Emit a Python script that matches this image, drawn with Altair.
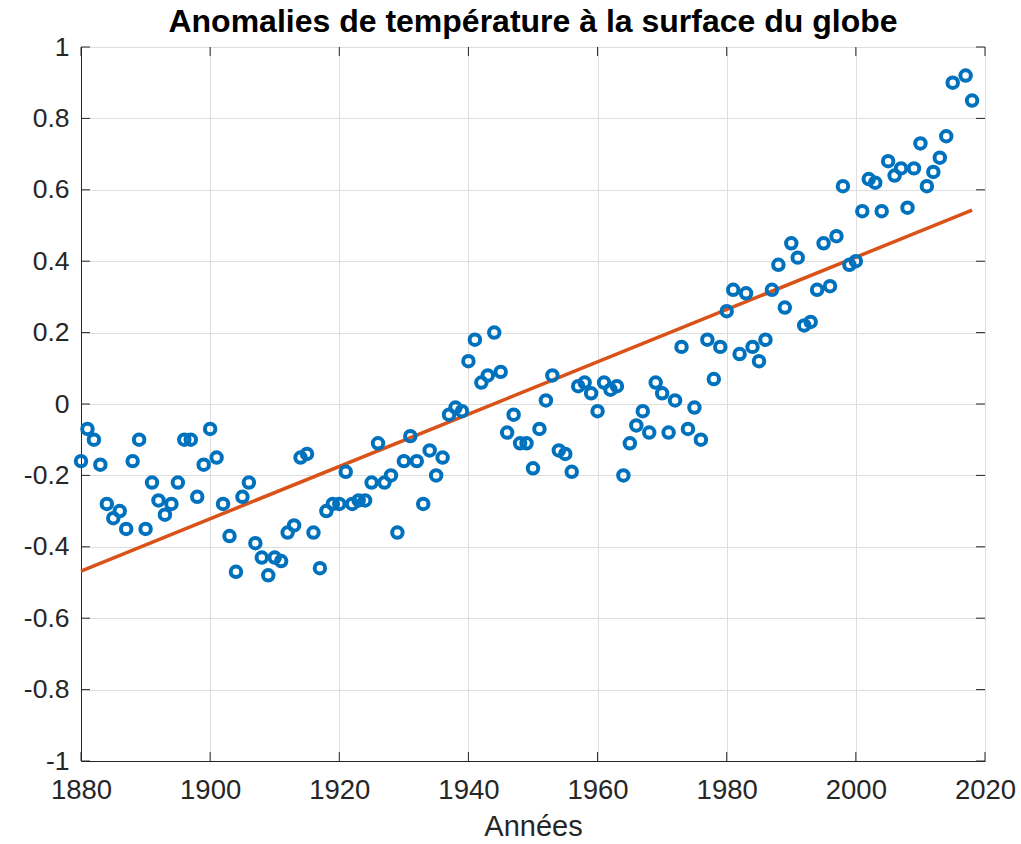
import altair as alt
import pandas as pd

# ---- data ----
title_text = "Anomalies de température à la surface du globe"
x_title = "Années"

years = list(range(1880, 2016)) + [2017, 2018]
anomalies = [
    -0.16, -0.07, -0.10, -0.17, -0.28, -0.32, -0.30, -0.35, -0.16, -0.10,   # 1880s
    -0.35, -0.22, -0.27, -0.31, -0.28, -0.22, -0.10, -0.10, -0.26, -0.17,   # 1890s
    -0.07, -0.15, -0.28, -0.37, -0.47, -0.26, -0.22, -0.39, -0.43, -0.48,   # 1900s
    -0.43, -0.44, -0.36, -0.34, -0.15, -0.14, -0.36, -0.46, -0.30, -0.28,   # 1910s
    -0.28, -0.19, -0.28, -0.27, -0.27, -0.22, -0.11, -0.22, -0.20, -0.36,   # 1920s
    -0.16, -0.09, -0.16, -0.28, -0.13, -0.20, -0.15, -0.03, -0.01, -0.02,   # 1930s
    0.12, 0.18, 0.06, 0.08, 0.20, 0.09, -0.08, -0.03, -0.11, -0.11,         # 1940s
    -0.18, -0.07, 0.01, 0.08, -0.13, -0.14, -0.19, 0.05, 0.06, 0.03,        # 1950s
    -0.02, 0.06, 0.04, 0.05, -0.20, -0.11, -0.06, -0.02, -0.08, 0.06,       # 1960s
    0.03, -0.08, 0.01, 0.16, -0.07, -0.01, -0.10, 0.18, 0.07, 0.16,         # 1970s
    0.26, 0.32, 0.14, 0.31, 0.16, 0.12, 0.18, 0.32, 0.39, 0.27,             # 1980s
    0.45, 0.41, 0.22, 0.23, 0.32, 0.45, 0.33, 0.47, 0.61, 0.39,             # 1990s
    0.40, 0.54, 0.63, 0.62, 0.54, 0.68, 0.64, 0.66, 0.55, 0.66,             # 2000s
    0.73, 0.61, 0.65, 0.69, 0.75, 0.90,                                     # 2010-2015
    0.92, 0.85,                                                             # 2017-2018
]
trend_years = [1880, 2018]
trend_values = [-0.468, 0.543]

x_ticks = [1880, 1900, 1920, 1940, 1960, 1980, 2000, 2020]
y_ticks = [-1, -0.8, -0.6, -0.4, -0.2, 0, 0.2, 0.4, 0.6, 0.8, 1]

pts = pd.DataFrame({"year": years, "anom": anomalies})
trend = pd.DataFrame({"year": trend_years, "anom": trend_values})
xt = pd.DataFrame({"v": x_ticks})
yt = pd.DataFrame({"v": y_ticks})
tt = pd.DataFrame({"t": [title_text]})

W, H = 904, 714
TL = 9
FONT = "Liberation Sans"
AXC = "#262626"

xscale = alt.Scale(domain=[1880, 2020], nice=False, zero=False)
yscale = alt.Scale(domain=[-1, 1], nice=False, zero=False)

x_axis = alt.Axis(values=x_ticks, format="d", ticks=False, grid=True,
                  gridColor="#dedede", domainColor=AXC, labelColor=AXC,
                  labelFont=FONT, labelFontSize=27.5, labelPadding=15,
                  title=x_title, titleFont=FONT, titleFontSize=29,
                  titleFontWeight="normal", titleColor=AXC, titlePadding=9,
                  labelFlush=False, labelOverlap=False)
y_axis = alt.Axis(values=y_ticks, ticks=False, grid=True,
                  gridColor="#dedede", domainColor=AXC, labelColor=AXC,
                  labelFont=FONT, labelFontSize=26.5, labelPadding=12,
                  labelExpr="'' + round(datum.value * 10) / 10",
                  title=None, labelFlush=False, labelOverlap=False)

points = alt.Chart(pts).mark_point(
    shape="circle", filled=False, color="#0072BD", strokeWidth=4, size=110, opacity=1
).encode(
    x=alt.X("year:Q", scale=xscale, axis=x_axis),
    y=alt.Y("anom:Q", scale=yscale, axis=y_axis),
)

line = alt.Chart(trend).mark_line(color="#D95319", strokeWidth=3.5).encode(
    x=alt.X("year:Q", scale=xscale),
    y=alt.Y("anom:Q", scale=yscale),
)

tick_style = dict(color=AXC, strokeWidth=1)
left_ticks = alt.Chart(yt).mark_rule(**tick_style).encode(
    y=alt.Y("v:Q", scale=yscale), x=alt.value(0), x2=alt.value(TL))
right_ticks = alt.Chart(yt).mark_rule(**tick_style).encode(
    y=alt.Y("v:Q", scale=yscale), x=alt.value(W - TL), x2=alt.value(W))
bottom_ticks = alt.Chart(xt).mark_rule(**tick_style).encode(
    x=alt.X("v:Q", scale=xscale), y=alt.value(H - TL), y2=alt.value(H))
top_ticks = alt.Chart(xt).mark_rule(**tick_style).encode(
    x=alt.X("v:Q", scale=xscale), y=alt.value(0), y2=alt.value(TL))

title_mark = alt.Chart(tt).mark_text(
    font=FONT, fontSize=32, fontWeight="bold", color="black",
    align="center", baseline="alphabetic",
).encode(text=alt.Text("t:N"), x=alt.value(W / 2), y=alt.value(-15))

chart = alt.layer(
    left_ticks, right_ticks, bottom_ticks, top_ticks, line, points, title_mark
).properties(
    width=W, height=H,
    autosize=alt.AutoSizeParams(type="none"),
    padding={"left": 81, "top": 47, "right": 36, "bottom": 83},
).configure_view(
    stroke=AXC, strokeWidth=1
).configure(background="white")

chart.save("out.html", embed_options={"renderer": "svg", "actions": False})
